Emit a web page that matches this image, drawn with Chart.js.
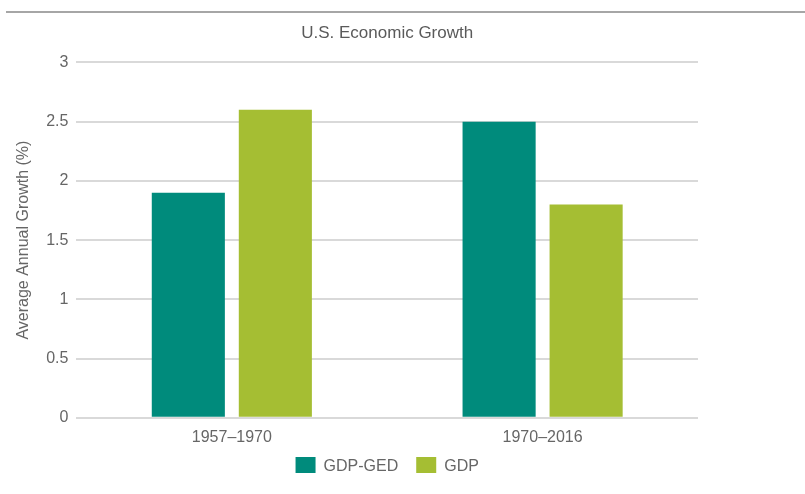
<!DOCTYPE html>
<html>
<head>
<meta charset="utf-8">
<script src="https://cdn.jsdelivr.net/npm/chart.js@4"></script>
<style>
  html, body { margin: 0; padding: 0; background: #fff; }
  #topline { position: absolute; left: 6px; right: 0; top: 11px; border-top: 2px solid #a6a6a6; }
  #wrap { position: absolute; left: 0; top: 0; width: 772px; height: 494px; }
</style>
</head>
<body>
<div id="topline"></div>
<div id="wrap"><canvas id="chart"></canvas></div>
<script>
var categories = ['1957\u20131970', '1970\u20132016'];
var gdpGed = [1.9, 2.5];
var gdp = [2.6, 1.8];
var yTicks = [0, 0.5, 1, 1.5, 2, 2.5, 3];

var textFont = 'Liberation Sans, Arial, sans-serif';
var legendPad = 18;   // horizontal gap between legend items
var legendLift = 10;  // draw the legend row closer to the axis than the padding implies

// center title and legend over the plot area instead of the whole canvas,
// and pull the legend up a little
var centerOnPlot = {
  id: 'centerOnPlot',
  afterLayout: function(chart) {
    var a = chart.chartArea;
    [chart.titleBlock, chart.legend].forEach(function(box) {
      if (!box) return;
      box.left = a.left;
      box.right = a.right;
      box.width = a.right - a.left;
    });
    if (chart.legend) {
      chart.legend.top -= legendLift;
      chart.legend.bottom -= legendLift;
    }
  }
};

var ctx = document.getElementById('chart').getContext('2d');
var chart = new Chart(ctx, {
  type: 'bar',
  data: {
    labels: categories,
    datasets: [
      { label: 'GDP-GED', data: gdpGed, backgroundColor: '#008b7c' },
      { label: 'GDP', data: gdp, backgroundColor: '#a5be33' }
    ]
  },
  options: {
    responsive: true,
    maintainAspectRatio: false,
    animation: false,
    categoryPercentage: 0.56,
    barPercentage: 0.84,
    layout: { padding: { top: 11, right: 74, left: 14, bottom: 11 } },
    plugins: {
      title: {
        display: true,
        text: 'U.S. Economic Growth',
        color: '#5a5a5a',
        font: { family: textFont, size: 17, weight: 'normal' },
        padding: { top: 12, bottom: 19 }
      },
      legend: {
        position: 'bottom',
        maxHeight: 34,
        labels: {
          color: '#666',
          font: { family: textFont, size: 16 },
          boxWidth: 20,
          boxHeight: 20,
          padding: legendPad
        }
      },
      tooltip: { enabled: false }
    },
    scales: {
      x: {
        grid: { display: false },
        border: { display: false },
        ticks: { color: '#666', font: { family: textFont, size: 16 }, padding: 2 }
      },
      y: {
        min: 0,
        max: 3,
        afterBuildTicks: function(axis) {
          axis.ticks = yTicks.map(function(v) { return { value: v }; });
        },
        grid: { color: '#d9d9d9', lineWidth: 2, drawTicks: false },
        border: { display: false },
        ticks: {
          color: '#666',
          font: { family: textFont, size: 16 },
          padding: 8,
          callback: function(v) { return String(v); }
        },
        title: {
          display: true,
          text: 'Average Annual Growth (%)',
          color: '#666',
          font: { family: textFont, size: 16 },
          padding: { top: 0, bottom: 5 }
        }
      }
    }
  },
  plugins: [centerOnPlot]
});
</script>
</body>
</html>
